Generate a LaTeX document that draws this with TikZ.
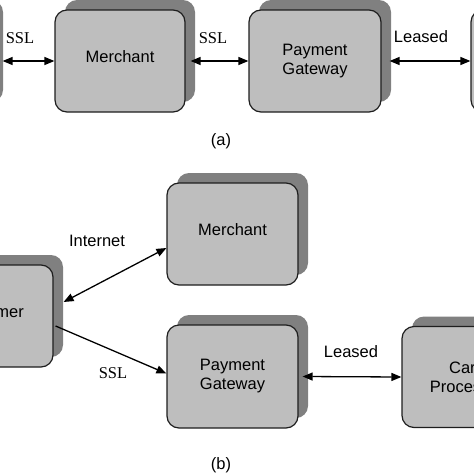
\documentclass[tikz,border=0pt]{standalone}
\usepackage{fontspec}
\setmainfont{Liberation Sans}
\newfontfamily\serifsl{Liberation Serif}
\usetikzlibrary{arrows.meta,shadows}
\definecolor{boxfill}{RGB}{190,190,190}
\definecolor{boxshadow}{RGB}{128,128,128}
\definecolor{boxline}{RGB}{30,30,30}
\begin{document}
\begin{tikzpicture}[x=1pt,y=-1pt,
  box/.style={draw=boxline, line width=1.2pt, fill=boxfill, rounded corners=12pt,
    minimum width=130pt, minimum height=102pt, align=center,
    font=\fontsize{16.5}{19}\selectfont,
    copy shadow={shadow xshift=10pt, shadow yshift=10pt, fill=boxshadow, draw=none}},
  lbl/.style={font=\fontsize{16.5}{19}\selectfont, inner sep=0pt},
  ssl/.style={font=\serifsl\fontsize{16.5}{19}\selectfont, inner sep=0pt},
  link/.style={line width=1.3pt, {Triangle[length=10pt,width=8pt]}-{Triangle[length=10pt,width=8pt]}},
  oneway/.style={line width=1.3pt, -{Triangle[length=10pt,width=8pt]}}]
\useasboundingbox (0,0) rectangle (474,474);
% (a)
\node[box] (custA) at (-72,61) {};
\node[box] (merA) at (120,61) {\raisebox{9pt}{Merchant}};
\node[box, minimum width=132pt] (pgA) at (315,61) {Payment\\Gateway};
\node[box] (cpA) at (536,61) {};
\draw[link] ([xshift=9pt]custA.east) -- (merA.west);
\draw[link] ([xshift=5pt]merA.east) -- (pgA.west);
\draw[link] ([xshift=8pt]pgA.east) -- (cpA.west);
\node[ssl] (sslA1) at (20,38) {SSL};
\node[ssl] (sslA2) at (213,38) {SSL};
\node[lbl] (leasedA) at (421,37) {Leased};
\node[lbl] (capA) at (221,141) {(a)};
% (b)
\node[box] (custB) at (-12,316) {\raisebox{9pt}{Customer}};
\node[box, minimum width=131pt] (merB) at (232.5,234) {\raisebox{9pt}{Merchant}};
\node[box, minimum width=131pt, minimum height=103pt] (pgB) at (232.5,376.5) {Payment\\Gateway};
\node[box, minimum height=101pt] (cpB) at (467,377) {Card\\Processor};
\draw[link] ([shift={(10,-14)}]custB.east) -- ([shift={(0,14)}]merB.west);
\draw[oneway] ([shift={(2,10)}]custB.east) -- ([shift={(0,-3)}]pgB.west);
\draw[link] ([xshift=4pt]pgB.east) -- (cpB.west);
\node[lbl] (inet) at (97,241) {Internet};
\node[ssl] (sslB) at (113,373) {SSL};
\node[lbl] (leasedB) at (351,352) {Leased};
\node[lbl] (capB) at (221,465) {(b)};
\end{tikzpicture}
\end{document}
